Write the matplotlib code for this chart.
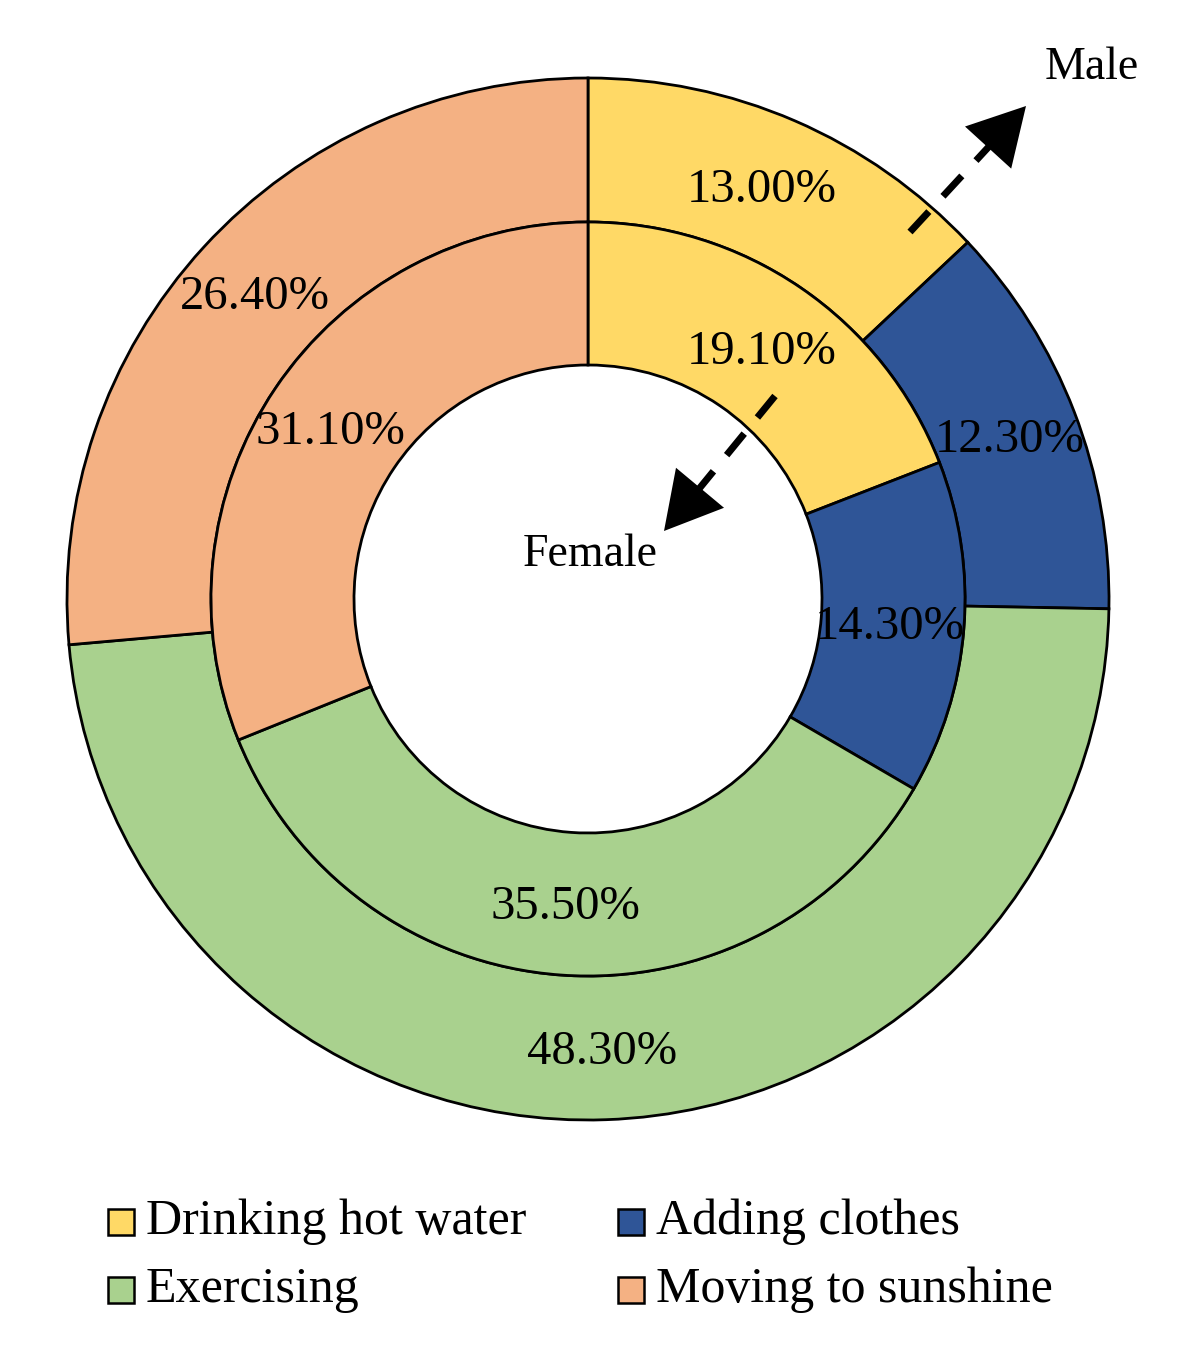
import matplotlib
matplotlib.use("Agg")
import matplotlib.pyplot as plt
from matplotlib.patches import Rectangle

categories = ["Drinking hot water", "Adding clothes", "Exercising", "Moving to sunshine"]
male_values = [13.00, 12.30, 48.30, 26.40]
female_values = [19.10, 14.30, 35.50, 31.10]
colors = ["#FFD966", "#2F5597", "#A9D18E", "#F4B183"]

W, H = 1186, 1361
plt.rcParams['font.family'] = ['Liberation Serif', 'DejaVu Serif']
fig = plt.figure(figsize=(W / 100, H / 100), dpi=100)
ax = fig.add_axes([0, 0, 1, 1])

def Y(py):
    return H - py

cx, cy = 588, Y(599)
R_out, R_mid, R_in = 521, 377, 234

wk = dict(edgecolor='black', linewidth=2.0)
outer, _ = ax.pie(male_values, colors=colors, radius=R_out, center=(cx, cy),
                  startangle=90, counterclock=False,
                  wedgeprops=dict(width=R_out - R_mid, **wk), frame=True)
inner, _ = ax.pie(female_values, colors=colors, radius=R_mid, center=(cx, cy),
                  startangle=90, counterclock=False,
                  wedgeprops=dict(width=R_mid - R_in, **wk), frame=True)
ax.set_xlim(0, W)
ax.set_ylim(0, H)
ax.set_aspect('equal')
ax.axis('off')

# percentage labels (pixel positions)
male_pos = [(762, 190), (1010, 440), (602, 1052), (255, 297)]
female_pos = [(762, 352), (890, 627), (565, 907), (330, 432)]
for v, (px, py) in zip(male_values, male_pos):
    ax.text(px, Y(py), f"{v:.2f}%", ha='center', va='center', fontsize=35)
for v, (px, py) in zip(female_values, female_pos):
    ax.text(px, Y(py), f"{v:.2f}%", ha='center', va='center', fontsize=35)

ax.text(1092, Y(68), "Male", ha='center', va='center', fontsize=33)
ax.text(590, Y(555), "Female", ha='center', va='center', fontsize=33)

# dashed arrows
def dashed_arrow(p0, p1, tip):
    ax.plot([p0[0], p1[0]], [Y(p0[1]), Y(p1[1])], color='black', lw=5,
            dashes=(4, 3), solid_capstyle='butt', dash_capstyle='butt')
    ax.annotate("", xy=(tip[0], Y(tip[1])), xytext=(p1[0], Y(p1[1])),
                arrowprops=dict(arrowstyle='-|>,head_length=1.35,head_width=0.75',
                                color='black', lw=0, mutation_scale=30,
                                shrinkA=0, shrinkB=0))

dashed_arrow((910, 232), (995, 140), (1026, 106))
dashed_arrow((775, 396), (694, 495), (664, 531))

# legend
leg_items = [(0, 108, 1222), (1, 618, 1222), (2, 108, 1290), (3, 618, 1290)]
for i, lx, ly in leg_items:
    ax.add_patch(Rectangle((lx, Y(ly) - 13), 26, 26, facecolor=colors[i],
                           edgecolor='black', linewidth=1.8))
    ax.text(lx + 38, Y(ly), categories[i], ha='left', va='center', fontsize=36)

fig.savefig("out.png", dpi=100)
